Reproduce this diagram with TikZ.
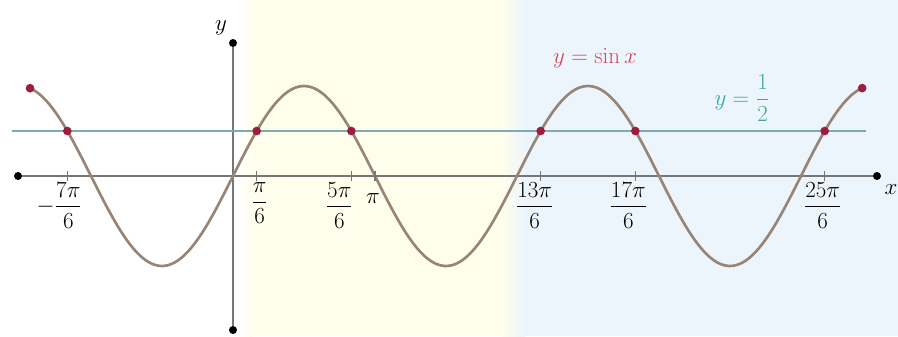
\documentclass[tikz,border=0pt]{standalone}
\usepackage{amsmath}
\usepackage{xcolor}
\usetikzlibrary{positioning,calc}
\definecolor{cCurve}{HTML}{978677}
\definecolor{cAxis}{HTML}{767676}
\definecolor{cHalf}{HTML}{7FAAB0}
\definecolor{cDot}{HTML}{9C1D3E}
\definecolor{cSin}{HTML}{D8475C}
\definecolor{cHalfLbl}{HTML}{3CA6A0}
\definecolor{bgY}{HTML}{FFFEEC}
\definecolor{bgB}{HTML}{EDF5FC}
\tikzset{
  axisln/.style={line width=2.2pt,draw=cAxis},
  curve/.style={line width=2pt,draw=cCurve,line join=round},
  half/.style={line width=1.5pt,draw=cHalf},
  hit/.style={circle,fill=cDot,inner sep=0pt,minimum size=6.5pt},
  endp/.style={circle,fill=black,inner sep=0pt,minimum size=6pt},
  tck/.style={line width=1pt,draw=cAxis},
  lbl/.style={font=\LARGE,inner sep=0pt}}
\begin{document}
\begin{tikzpicture}[x=0.75pt,y=0.75pt]
\useasboundingbox (-233,-160) rectangle (665,176);
% background bands
\fill[white] (-233,-160) rectangle (4,176);
\shade[left color=white,right color=bgY] (4,-160) rectangle (20,176);
\fill[bgY] (20,-160) rectangle (268,176);
\shade[left color=bgY,right color=bgB] (268,-160) rectangle (292,176);
\fill[bgB] (292,-160) rectangle (665,176);
% axes
\node[endp] (xl) at (-215,0) {};
\node[endp] (xr) at (644,0) {};
\node[endp] (yt) at (0,133) {};
\node[endp] (yb) at (0,-154) {};
\draw[axisln] (xl) -- (xr);
\draw[axisln] (yb) -- (yt);
\node[lbl] (ylab) at (-12,148) {$y$};
\node[lbl] (xlab) at (658,-14) {$x$};
% line y = 1/2
\coordinate (hl) at (-221,45);
\coordinate (hr) at (633,45);
\draw[half] (hl) -- (hr);
% y = sin x, 1 rad = 45.2 px
\draw[curve,domain=-4.49:13.92,samples=220,smooth] plot ({45.2*\x},{90*sin(\x r)});
\node[hit] (cl) at ({45.2*(-4.49)},{90*sin(-4.49 r)}) {};
\node[hit] (cr) at ({45.2*13.92},{90*sin(13.92 r)}) {};
% intersections and ticks
\foreach \k/\nm in {-7/a,1/b,5/c,6/d,13/e,17/f,25/g}{
  \pgfmathsetmacro{\xx}{\k*pi/6*45.2}
  \draw[tck] (\xx,-5) -- (\xx,5);
}
\foreach \k/\nm in {-7/a,1/b,5/c,13/e,17/f,25/g}{
  \pgfmathsetmacro{\xx}{\k*pi/6*45.2}
  \node[hit] (p\nm) at (\xx,45) {};
}
% tick labels
\foreach \k/\nm/\dx/\txt in {-7/a/-8/{-\dfrac{7\pi}{6}}, 1/b/3/{\dfrac{\pi}{6}},
    5/c/-12/{\dfrac{5\pi}{6}}, 13/e/-6/{\dfrac{13\pi}{6}},
    17/f/-7/{\dfrac{17\pi}{6}}, 25/g/-2/{\dfrac{25\pi}{6}}}{
  \pgfmathsetmacro{\xx}{\k*pi/6*45.2+\dx}
  \node[lbl,anchor=north] (l\nm) at (\xx,-6) {$\txt$};
}
\node[lbl,anchor=north] (ld) at ({pi*45.2-2},-17) {$\pi$};
% curve and line labels
\node[lbl,text=cSin] (sinlab) at (362,118) {$y=\sin x$};
\node[lbl,text=cHalfLbl] (halflab) at (509,78) {$y=\dfrac{1}{2}$};
\end{tikzpicture}
\end{document}
